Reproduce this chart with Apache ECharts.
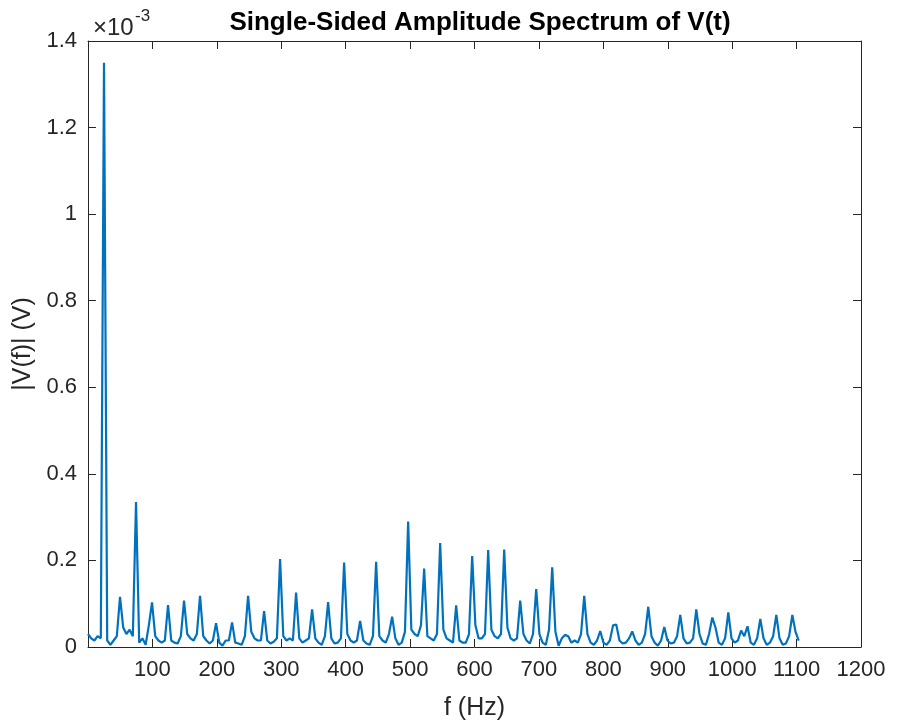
<!DOCTYPE html>
<html>
<head>
<meta charset="utf-8">
<script src="https://cdn.jsdelivr.net/npm/echarts@6/dist/echarts.min.js"></script>
<style>
html,body{margin:0;padding:0;background:#fff;}
#chart{width:900px;height:726px;}
</style>
</head>
<body>
<div id="chart"></div>
<script>
// Frequency step between spectrum samples (Hz)
const freqStep = 4.97;
// |V(f)| in units of 1e-3 V, one value per frequency sample
const amplitude = [
  0.030, 0.020, 0.015, 0.025, 0.020, 1.350, 0.015, 0.005, 0.015, 0.025,
  0.116, 0.045, 0.030, 0.040, 0.025, 0.335, 0.010, 0.020, 0.005, 0.050,
  0.103, 0.025, 0.015, 0.010, 0.015, 0.097, 0.015, 0.010, 0.008, 0.025,
  0.107, 0.030, 0.020, 0.015, 0.030, 0.118, 0.025, 0.015, 0.008, 0.015,
  0.055, 0.010, 0.003, 0.015, 0.015, 0.057, 0.010, 0.008, 0.005, 0.025,
  0.118, 0.035, 0.020, 0.015, 0.015, 0.083, 0.015, 0.008, 0.012, 0.020,
  0.203, 0.025, 0.015, 0.020, 0.015, 0.126, 0.020, 0.010, 0.015, 0.020,
  0.087, 0.020, 0.010, 0.005, 0.025, 0.104, 0.020, 0.008, 0.010, 0.020,
  0.195, 0.030, 0.015, 0.010, 0.015, 0.060, 0.015, 0.008, 0.005, 0.025,
  0.197, 0.025, 0.015, 0.010, 0.030, 0.070, 0.020, 0.005, 0.010, 0.035,
  0.290, 0.040, 0.030, 0.025, 0.050, 0.181, 0.025, 0.020, 0.015, 0.030,
  0.240, 0.040, 0.020, 0.015, 0.010, 0.096, 0.015, 0.010, 0.010, 0.030,
  0.210, 0.050, 0.020, 0.020, 0.030, 0.224, 0.040, 0.025, 0.020, 0.030,
  0.225, 0.045, 0.020, 0.015, 0.020, 0.107, 0.030, 0.015, 0.008, 0.030,
  0.134, 0.030, 0.010, 0.005, 0.040, 0.184, 0.035, 0.003, 0.020, 0.028,
  0.025, 0.010, 0.015, 0.010, 0.030, 0.118, 0.030, 0.010, 0.005, 0.015,
  0.037, 0.010, 0.005, 0.015, 0.050, 0.052, 0.015, 0.008, 0.010, 0.020,
  0.036, 0.015, 0.005, 0.010, 0.030, 0.093, 0.025, 0.010, 0.003, 0.015,
  0.046, 0.015, 0.008, 0.010, 0.025, 0.074, 0.020, 0.008, 0.010, 0.020,
  0.087, 0.030, 0.008, 0.005, 0.030, 0.068, 0.045, 0.010, 0.005, 0.020,
  0.080, 0.020, 0.010, 0.015, 0.038, 0.025, 0.048, 0.010, 0.005, 0.020,
  0.065, 0.020, 0.005, 0.010, 0.025, 0.074, 0.020, 0.005, 0.008, 0.025,
  0.074, 0.035, 0.015
];
const xTicks = [0, 100, 200, 300, 400, 500, 600, 700, 800, 900, 1000, 1100, 1200];
const yTicks = [0, 0.2, 0.4, 0.6, 0.8, 1, 1.2, 1.4];

const seriesData = amplitude.map((v, i) => [i * freqStep, v]);

const axisColor = '#262626';
const font = 'Liberation Sans, Arial, Helvetica, sans-serif';

const chart = echarts.init(document.getElementById('chart'), null, {renderer: 'canvas'});
const baseX = {
  type: 'value', min: xTicks[0], max: xTicks[xTicks.length - 1], interval: 100,
  splitLine: {show: false},
  axisLine: {show: true, onZero: false, lineStyle: {color: axisColor, width: 1}},
  axisTick: {show: true, inside: true, length: 8, lineStyle: {color: axisColor}}
};
const baseY = {
  type: 'value', min: yTicks[0], max: yTicks[yTicks.length - 1], interval: 0.2,
  splitLine: {show: false},
  axisLine: {show: true, onZero: false, lineStyle: {color: axisColor, width: 1}},
  axisTick: {show: true, inside: true, length: 8, lineStyle: {color: axisColor}}
};
chart.setOption({
  animation: false,
  backgroundColor: '#ffffff',
  grid: {left: 88, right: 39, top: 41, bottom: 77, containLabel: false},
  xAxis: [
    Object.assign({}, baseX, {
      position: 'bottom',
      name: 'f (Hz)', nameLocation: 'middle', nameGap: 49,
      nameTextStyle: {fontFamily: font, fontSize: 25, color: axisColor},
      axisLabel: {
        show: true, fontFamily: font, fontSize: 22, color: axisColor, margin: 12,
        formatter: v => (v === 0 ? '' : String(v))
      }
    }),
    Object.assign({}, baseX, {position: 'top', axisLabel: {show: false}})
  ],
  yAxis: [
    Object.assign({}, baseY, {
      position: 'left',
      name: '|V(f)| (V)', nameLocation: 'middle', nameGap: 39, nameRotate: 90,
      nameTextStyle: {fontFamily: font, fontSize: 25, color: axisColor},
      axisLabel: {
        show: true, fontFamily: font, fontSize: 22, color: axisColor, margin: 11,
        formatter: v => String(Math.round(v * 10) / 10)
      }
    }),
    Object.assign({}, baseY, {position: 'right', axisLabel: {show: false}})
  ],
  graphic: [
    {
      type: 'text', x: 480, y: 10,
      style: {
        text: 'Single-Sided Amplitude Spectrum of V(t)',
        font: 'bold 26px ' + font, fill: '#000000',
        align: 'center', verticalAlign: 'top'
      }
    },
    {
      type: 'text', x: 93, y: 16,
      style: {
        text: '×10',
        font: '24px ' + font, fill: axisColor,
        align: 'left', verticalAlign: 'top'
      }
    },
    {
      type: 'text', x: 135, y: 8,
      style: {
        text: '-3',
        font: '17px ' + font, fill: axisColor,
        align: 'left', verticalAlign: 'top'
      }
    }
  ],
  series: [{
    type: 'line', xAxisIndex: 0, yAxisIndex: 0,
    data: seriesData, showSymbol: false, symbol: 'none',
    lineStyle: {color: '#0072BD', width: 2.2},
    itemStyle: {color: '#0072BD'}
  }]
});
</script>
</body>
</html>
